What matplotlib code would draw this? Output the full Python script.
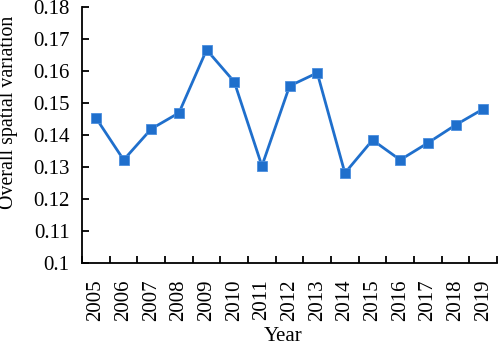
import numpy as np
import matplotlib
matplotlib.use("Agg")
import matplotlib.pyplot as plt

years = [str(y) for y in range(2005, 2020)]
variation = [0.1453, 0.1322, 0.1419, 0.1469, 0.1666, 0.1566, 0.1303, 0.1553,
             0.1594, 0.1281, 0.1384, 0.1322, 0.1375, 0.1431, 0.1481]
yticks = [0.1, 0.11, 0.12, 0.13, 0.14, 0.15, 0.16, 0.17, 0.18]
ytick_labels = ["0.1", "0.11", "0.12", "0.13", "0.14", "0.15", "0.16", "0.17", "0.18"]

plt.rcParams['font.family'] = ['Liberation Serif', 'DejaVu Serif']
plt.rcParams['font.size'] = 15

fig = plt.figure(figsize=(4.98, 3.46), dpi=100)
ax = fig.add_axes([0.165, 0.24, 0.833, 0.74])

x = np.arange(len(years))
ax.plot(x, variation, color='#1f6fcc', linewidth=2, marker='s', markersize=7.5,
        markerfacecolor='#1f6fcc', markeredgecolor='#4a8ede', markeredgewidth=0.6)

ax.set_xlim(-0.5, len(years) - 0.5)
ax.set_ylim(0.1, 0.18)
ax.set_yticks(yticks)
ax.set_yticklabels(ytick_labels)
ax.set_xticks(x)
ax.set_xticklabels(years, rotation=90)
ax.set_xticks(np.arange(-0.5, len(years)), minor=True)
ax.tick_params(axis='x', which='major', length=0, pad=12)
ax.tick_params(axis='x', which='minor', direction='in', length=5, width=1.3)
ax.tick_params(axis='y', direction='in', length=5, width=1.3, pad=9)

for s in ['top', 'right']:
    ax.spines[s].set_visible(False)
for s in ['left', 'bottom']:
    ax.spines[s].set_linewidth(1.3)

ax.set_ylabel('Overall spatial variation', fontsize=14.3)
ax.yaxis.set_label_coords(-0.154, 0.59)
ax.set_xlabel('Year')
ax.xaxis.set_label_coords(0.484, -0.25)

fig.savefig('out.png', dpi=100)
